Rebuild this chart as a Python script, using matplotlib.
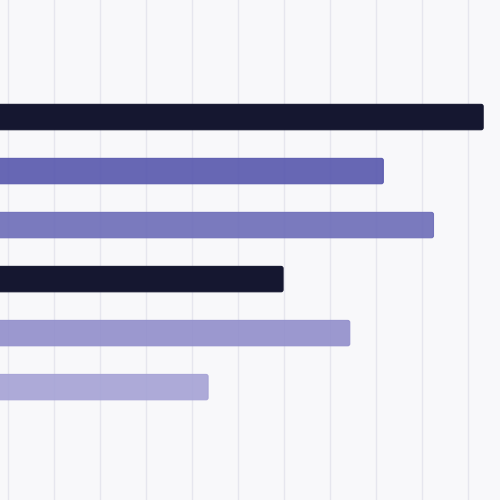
import matplotlib
matplotlib.use("Agg")
import matplotlib.pyplot as plt
from matplotlib.patches import FancyBboxPatch
import numpy as np

# bar values, top to bottom
values = [113.3, 91.6, 102.5, 69.8, 84.3, 53.5]
colors = ["#151730", "#5757ad", "#6c6cb8", "#151730", "#918ecb", "#a5a2d5"]
alphas = [1.0, 0.9, 0.9, 1.0, 0.9, 0.9]
grid_ticks = np.arange(10, 120, 10)

fig = plt.figure(figsize=(5, 5), dpi=100)
fig.patch.set_facecolor("#f8f8fa")
ax = fig.add_axes([0, 0, 1, 1])
ax.set_facecolor("#f8f8fa")
ax.set_xlim(8.26, 116.96)
ax.set_ylim(7.09, -2.167)

ypos = np.arange(len(values))
bars = ax.barh(ypos, values, height=0.47)
# swap plain rectangles for slightly rounded ones
for rect, c, a in zip(bars, colors, alphas):
    x, y = rect.get_x(), rect.get_y()
    w, h = rect.get_width(), rect.get_height()
    rect.remove()
    ax.add_patch(FancyBboxPatch((x, y), w, h,
                                boxstyle="round,pad=0,rounding_size=0.45",
                                mutation_aspect=0.082,
                                facecolor=c, edgecolor=c, alpha=a,
                                linewidth=0.8, zorder=2))

ax.set_xticks(grid_ticks)
ax.grid(axis="x", color="#e6e6ee", linewidth=1.0, zorder=0)
ax.grid(axis="y", visible=False)
ax.set_axisbelow(True)
ax.tick_params(left=False, bottom=False, labelleft=False, labelbottom=False)
for s in ax.spines.values():
    s.set_visible(False)

fig.savefig("out.png", dpi=100, facecolor=fig.get_facecolor())
